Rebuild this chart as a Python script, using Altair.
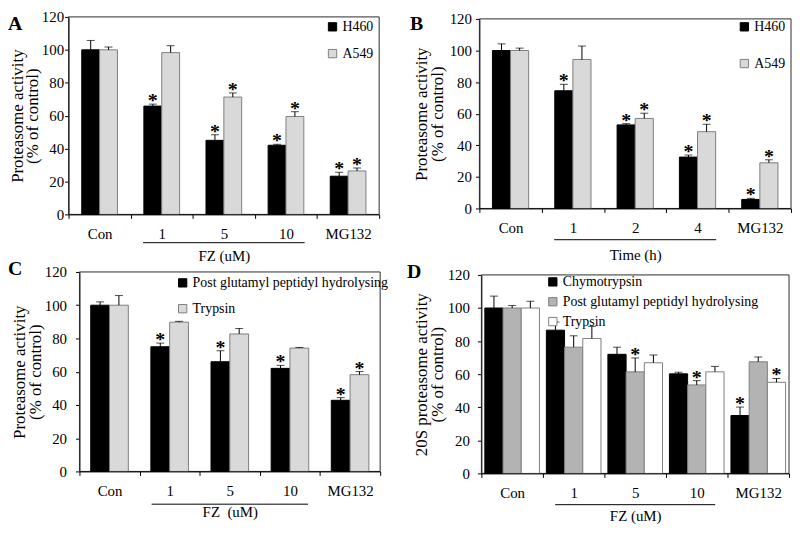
import altair as alt
import pandas as pd

FONT = "Liberation Serif"

# ---------------- data ----------------
cats_A = ["Con", "1", "5", "10", "MG132"]
series_A = ["H460", "A549"]
a_h460 = [100, 65.8, 45.0, 42.0, 23.2]
a_h460_err = [105.7, 67.0, 48.4, 42.6, 25.6]
a_h460_sig = [0, 1, 1, 1, 1]
a_a549 = [100, 98.3, 71.3, 59.5, 26.4]
a_a549_err = [101.7, 102.5, 73.8, 62.4, 28.2]
a_a549_sig = [0, 0, 1, 1, 1]

cats_B = ["Con", "1", "2", "4", "MG132"]
series_B = ["H460", "A549"]
b_h460 = [100, 74.5, 52.9, 32.5, 5.7]
b_h460_err = [104.2, 78.6, 53.7, 33.8, 6.4]
b_h460_sig = [0, 1, 1, 1, 1]
b_a549 = [100, 94.3, 57.0, 48.6, 28.9]
b_a549_err = [101.5, 102.8, 60.3, 53.3, 30.8]
b_a549_sig = [0, 0, 1, 1, 1]

cats_C = ["Con", "1", "5", "10", "MG132"]
series_C = ["Post glutamyl peptidyl hydrolysing", "Trypsin"]
c_pgph = [100, 75.0, 66.0, 62.0, 42.8]
c_pgph_err = [102.0, 77.2, 72.6, 63.8, 44.4]
c_pgph_sig = [0, 1, 1, 1, 1]
c_tryp = [100, 89.8, 82.7, 74.2, 58.2]
c_tryp_err = [105.8, 90.3, 86.0, 74.6, 60.1]
c_tryp_sig = [0, 0, 0, 0, 1]

cats_D = ["Con", "1", "5", "10", "MG132"]
series_D = ["Chymotrypsin", "Post glutamyl peptidyl hydrolysing", "Trypsin"]
d_chymo = [100, 86.6, 72.0, 60.2, 35.0]
d_chymo_err = [107.2, 91.5, 76.3, 61.2, 40.1]
d_chymo_sig = [0, 0, 0, 0, 1]
d_pgph = [100, 76.3, 61.4, 53.5, 67.5]
d_pgph_err = [101.5, 83.2, 69.8, 56.1, 70.4]
d_pgph_sig = [0, 0, 1, 1, 0]
d_tryp = [100, 81.6, 66.9, 61.4, 55.1]
d_tryp_err = [104.1, 88.9, 71.6, 64.7, 57.4]
d_tryp_sig = [0, 0, 0, 0, 1]

panel_letters = ["A", "B", "C", "D"]
y_ticks = [0, 20, 40, 60, 80, 100, 120]
y_domain = [0, 120]


def make_df(cats, series, values, errs, sigs):
    rows = []
    for s, vals, es, gs in zip(series, values, errs, sigs):
        for c, v, e, g in zip(cats, vals, es, gs):
            rows.append({"cat": c, "series": s, "value": v, "err": e, "sig": g})
    return pd.DataFrame(rows)


def panel(p):
    df = make_df(p["cats"], p["series"], p["values"], p["errs"], p["sigs"])
    W, H = p["w"], p["h"]
    x0, y0 = p["x0"], p["y0"]
    xs = alt.Scale(domain=p["cats"], range=[x0, W], paddingInner=0, paddingOuter=0)
    xaxis = alt.Axis(title=p["xtitle"], tickBand="extent", labelAngle=0,
                     labelPadding=p["xlp"], titlePadding=p["xtp"],
                     labelFont=FONT, titleFont=FONT,
                     labelFontSize=15, titleFontSize=15, tickSize=4,
                     titleFontWeight="normal", labelColor="black",
                     titleColor="black", domainColor="black", tickColor="black")
    X = alt.X("cat:N", scale=xs, axis=xaxis, sort=p["cats"])
    XO = alt.XOffset("series:N", sort=p["series"],
                     scale=alt.Scale(domain=p["series"], paddingInner=0,
                                     paddingOuter=p["op"]))
    ys = alt.Scale(domain=y_domain, range=[H, y0], nice=False)
    yaxis = alt.Axis(title=p["ytitle"], values=y_ticks, labelPadding=p["ylp"],
                     titlePadding=p["ytp"], titleFontSize=17, offset=-x0,
                     labelFont=FONT, titleFont=FONT,
                     titleLineHeight=p["tlh"], labelFontSize=15, tickSize=4,
                     titleFontWeight="normal", labelColor="black",
                     titleColor="black", domainColor="black", tickColor="black")
    leg = alt.Legend(title=None, orient="none", legendX=p["lx"] + x0,
                     legendY=p["ly"] + y0,
                     symbolType="square", symbolSize=70, symbolStrokeWidth=1,
                     labelFont=FONT, labelFontSize=14, labelColor="black",
                     rowPadding=p["lrp"], labelLimit=400,
                     padding=0, labelOffset=3, direction="vertical")
    base = alt.Chart(df)
    # frame around the plotting area, drawn through the scales
    fdf = pd.DataFrame({"c0": [p["cats"][0]], "c1": [p["cats"][-1]],
                        "lo": [y_domain[0]], "hi": [y_domain[1]]})
    frame = alt.Chart(fdf).mark_rect(filled=False, color="#2b2b2b", strokeWidth=1).encode(
        x=alt.X("c0:N", scale=xs, axis=xaxis, bandPosition=0),
        x2=alt.X2("c1", bandPosition=1),
        y=alt.Y("lo:Q", scale=ys, axis=yaxis),
        y2=alt.Y2("hi"),
    )
    bars = base.mark_bar(strokeWidth=1).encode(
        x=X, xOffset=XO,
        y=alt.Y("value:Q", scale=ys, axis=yaxis),
        fill=alt.Fill("series:N", sort=p["series"],
                      scale=alt.Scale(domain=p["series"], range=p["fills"]), legend=leg),
        stroke=alt.Stroke("series:N", sort=p["series"],
                          scale=alt.Scale(domain=p["series"], range=p["strokes"]), legend=leg),
    )
    errs = base.mark_rule(color="black", strokeWidth=1).encode(
        x=X, xOffset=XO,
        y=alt.Y("value:Q", scale=ys, axis=yaxis),
        y2=alt.Y2("err:Q"),
    )
    caps = base.mark_tick(color="black", thickness=1, size=8).encode(
        x=X, xOffset=XO,
        y=alt.Y("err:Q", scale=ys, axis=yaxis),
    )
    stars = base.transform_filter(alt.datum.sig == 1).mark_text(
        text="*", font=FONT, fontSize=20, fontWeight="bold", color="black",
        baseline="alphabetic", dy=3,
    ).encode(
        x=X, xOffset=XO,
        y=alt.Y("err:Q", scale=ys, axis=yaxis),
    )
    bdf = pd.DataFrame({"c1": [p["bracket"][0]], "c2": [p["bracket"][1]]})
    bracket = alt.Chart(bdf).mark_rule(color="black", strokeWidth=1).encode(
        x=alt.X("c1:N", scale=xs, axis=xaxis, bandPosition=0.2),
        x2=alt.X2("c2", bandPosition=0.8),
        y=alt.value(H + p["uy"]),
    )
    ldf = pd.DataFrame({"letter": [p["letter"]]})
    letter = alt.Chart(ldf).mark_text(
        font=FONT, fontSize=20, fontWeight="bold", color="black",
        align="left", baseline="middle",
    ).encode(text="letter:N", x=alt.value(p["ldx"]), y=alt.value(p["ldy"] + y0))
    return alt.layer(frame, bars, errs, caps, stars, bracket, letter).properties(
        width=W, height=H)


GRAY = "#d9d9d9"
EDGE = "#7f7f7f"

A = panel(dict(cats=cats_A, series=series_A, values=[a_h460, a_a549],
               errs=[a_h460_err, a_a549_err], sigs=[a_h460_sig, a_a549_sig],
               w=313, h=199, x0=0, y0=0,
               xtitle="FZ (uM)", xlp=8, xtp=7, op=0.74,
               ytitle=["Proteasome activity", "(% of control)"], ylp=1, ytp=0, tlh=15,
               lx=259, ly=3, lrp=13, fills=["black", GRAY], strokes=["black", EDGE],
               bracket=["1", "10"], uy=28.5, letter=panel_letters[0], ldx=-61, ldy=7))
B = panel(dict(cats=cats_B, series=series_B, values=[b_h460, b_a549],
               errs=[b_h460_err, b_a549_err], sigs=[b_h460_sig, b_a549_sig],
               w=314, h=193, x0=0, y0=2,
               xtitle="Time (h)", xlp=8, xtp=12, op=0.72,
               ytitle=["Proteasome activity", "(% of control)"], ylp=4, ytp=3, tlh=16,
               lx=260, ly=1, lrp=23, fills=["black", GRAY], strokes=["black", EDGE],
               bracket=["1", "4"], uy=31.5, letter=panel_letters[1], ldx=-70, ldy=5))
C = panel(dict(cats=cats_C, series=series_C, values=[c_pgph, c_tryp],
               errs=[c_pgph_err, c_tryp_err], sigs=[c_pgph_sig, c_tryp_sig],
               w=314, h=201, x0=11, y0=0,
               xtitle="FZ\u00a0 (uM)", xlp=8.5, xtp=6, op=0.6,
               ytitle=["Proteasome activity", "(% of control)"], ylp=9, ytp=0, tlh=16,
               lx=97, ly=4, lrp=12, fills=["black", GRAY], strokes=["black", EDGE],
               bracket=["1", "10"], uy=33, letter=panel_letters[2], ldx=-61, ldy=-3))
D = panel(dict(cats=cats_D, series=series_D, values=[d_chymo, d_pgph, d_tryp],
               errs=[d_chymo_err, d_pgph_err, d_tryp_err],
               sigs=[d_chymo_sig, d_pgph_sig, d_tryp_sig],
               w=312, h=203, x0=2, y0=3,
               xtitle="FZ (uM)", xlp=8, xtp=8, op=0.19,
               ytitle=["20S proteasome activity", "(% of control)"], ylp=8, ytp=1, tlh=16,
               lx=65, ly=0, lrp=6, fills=["black", "#b3b3b3", "white"],
               strokes=["black", EDGE, EDGE],
               bracket=["1", "10"], uy=31.5, letter=panel_letters[3], ldx=-73, ldy=-3))

RES = dict(fill="independent", stroke="independent", xOffset="independent")

chart = alt.concat(A, B, C, D, columns=2, bounds="flush",
                   spacing={"row": 58, "column": 100}).resolve_scale(**RES).properties(
    padding=0
).configure(font=FONT).configure_view(
    stroke="transparent", strokeWidth=0
).configure_axis(
    domainColor="black", tickColor="black", labelColor="black", titleColor="black",
    grid=False, domainWidth=1, tickWidth=1, labelFont=FONT, titleFont=FONT
).configure_legend(labelFont=FONT)

chart.save("out.html", embed_options={"renderer": "svg", "actions": False})
